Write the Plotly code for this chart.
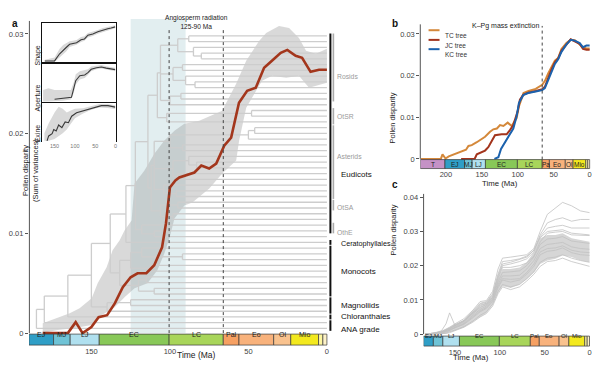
import plotly.graph_objects as go

W, H = 599, 371
FONT = "Arial, Liberation Sans, sans-serif"

# ---------------- data ----------------
# geological time scale (Ma)
geo_start = [252.0, 201.3, 174.1, 163.5, 145.0, 100.5, 66.0, 56.0, 33.9, 23.03, 5.33, 2.58]
geo_end = [201.3, 174.1, 163.5, 145.0, 100.5, 66.0, 56.0, 33.9, 23.03, 5.33, 2.58, 0.0]
geo_abbr = ["T", "EJ", "MJ", "LJ", "EC", "LC", "Pal", "Eo", "Ol", "Mio", "", ""]
geo_abbr_b = ["T", "EJ", "MJ", "LJ", "EC", "LC", "Pa", "Eo", "Ol", "Mio", "", ""]
geo_color = ["#c592c6", "#2f9ec6", "#6fc3d6", "#b0e0ef", "#88c858", "#a8d55a",
             "#f6a062", "#f8b27c", "#f9c28e", "#f3e91e", "#fdf6a0", "#fdf2c8"]

# panel a: main disparity curve (JC tree)
red_t = [181, 165, 160, 155.6, 150, 145.4, 140, 135, 130, 125, 120.6, 115, 110, 105, 102.5, 100,
         96.5, 94, 84.4, 80, 75, 70.5, 65.4, 61, 56, 50.8, 45.3, 40, 35, 29.4, 25.2, 19.9, 15.8,
         10.4, 5, 0]
red_v = [0, 0, 0.0011, 0, 0.0006, 0.0016, 0.0018, 0.003, 0.0046, 0.0056, 0.006, 0.006, 0.0068,
         0.0086, 0.011, 0.0146, 0.0153, 0.0156, 0.0161, 0.0168, 0.0165, 0.017, 0.0188, 0.0196,
         0.0231, 0.0243, 0.0246, 0.0266, 0.0273, 0.0281, 0.0284, 0.0278, 0.0276, 0.0262, 0.0264,
         0.0264]
# panel a: confidence envelope
env_hi_t = [181, 171.4, 163.8, 157.5, 149.8, 146, 140.3, 136.5, 132, 128.9, 124.4, 122.5, 116.2,
            109.8, 103.5, 97.1, 90.8, 81.3, 66.7, 57.8, 51.4, 43.2, 38.7, 30.5, 24.1, 17.8, 13.3,
            7, 0]
env_hi_v = [0.001, 0.0016, 0.002, 0.0025, 0.0035, 0.005, 0.0066, 0.0083, 0.0093, 0.0103, 0.0113,
            0.015, 0.0163, 0.018, 0.0193, 0.0203, 0.021, 0.0213, 0.0223, 0.025, 0.0273, 0.0293,
            0.0301, 0.0308, 0.0306, 0.0296, 0.0283, 0.028, 0.0285]
env_lo_t = [181, 171.4, 160.6, 149.8, 143.5, 135.2, 128.9, 122.5, 114.3, 108, 103.5, 100.3, 97.1,
            90.8, 85.7, 74.9, 66.7, 57.8, 55.9, 51.4, 45.1, 41.3, 34.9, 26, 17.8, 11.4, 7, 0]
env_lo_v = [0, 0.0003, 0.0005, 0.0008, 0.0018, 0.0026, 0.0036, 0.0045, 0.005, 0.0063, 0.008,
            0.0095, 0.0115, 0.0128, 0.0131, 0.0145, 0.016, 0.0173, 0.0193, 0.0226, 0.0243, 0.0253,
            0.0258, 0.0256, 0.0258, 0.0246, 0.0248, 0.0251]
radiation_window = [125, 90]
event_lines = [100.5, 66]

# phylogeny (node = (age, child, child, ...); 0 = tip), tips listed top to bottom
rosids = (106, (95, (88, 0, 0), (85, 0, (80, 0, 0))), (98, (92, 0, 0), (90, 0, (84, 0, 0))),
          (100, (93, 0, 0), 0))
otsr = (102, (48, 0, 0), 0)
asterids = (110, (100, (50, (46, 0, 0), 0), (92, 0, 0)), (98, (88, 0, (83, 0, 0)), (95, 0, 0)),
            (104, 0, (96, 0, 0)))
otsa = (106, (95, 0, 0), (98, 0, 0))
othe = (118, 0, (110, 0, 0))
monocots = (132, (125, (118, 0, (92, 0, 0)), (112, 0, 0)), (120, (115, 0, 0), (110, 0, 0)))
magnoliids = (140, (125, 0, 0), 0)
tree = (185, (180, (165, (150, (138, (128, (122, (114, (108, rosids, otsr), (112, asterids, otsa)),
                                                othe), 0), monocots), magnoliids), 0), 0), 0)

clade_names = ["Eudicots", "Ceratophyllales", "Monocots", "Magnoliids", "Chloranthales", "ANA grade"]
clade_first = [0, 36, 37, 46, 49, 50]
clade_last = [34, 36, 45, 48, 49, 51]
clade_label_at = [24.2, 36.2, 41, 47, 49, 51.1]
clade_font = [8, 7.2, 8, 8, 8, 8]
sub_names = ["Rosids", "OtSR", "Asterids", "OtSA", "OthE"]
sub_first = [0, 13, 16, 29, 33]
sub_last = [11, 15, 28, 30, 34]
sub_label_at = [7, 14.1, 21, 29.9, 34.3]

# inset (relative disparity per trait)
shape_t = [174, 150, 137.5, 129, 121.5, 113, 105, 96, 85, 76.5, 68, 56, 43.6, 31.5, 19.3, 11, 1]
shape_v = [0.03, 0.03, 0.22, 0.32, 0.385, 0.47, 0.49, 0.51, 0.59, 0.61, 0.71, 0.74, 0.8, 0.85, 0.88, 0.9, 0.93]
shape_lo = [0.0, 0.0, 0.12, 0.2, 0.28, 0.4, 0.43, 0.46, 0.53, 0.56, 0.65, 0.69, 0.75, 0.8, 0.84, 0.86, 0.89]
shape_hi = [0.06, 0.12, 0.35, 0.45, 0.5, 0.55, 0.56, 0.58, 0.66, 0.68, 0.77, 0.8, 0.85, 0.9, 0.93, 0.95, 0.97]
ap_t = [150, 130, 108.5, 103, 98, 88, 76, 68, 60, 47, 35, 23, 11, 1]
ap_v = [0.06, 0.08, 0.11, 0.34, 0.55, 0.68, 0.7, 0.76, 0.85, 0.89, 0.91, 0.88, 0.86, 0.84]
ap_bt = [178, 165, 150, 130, 110, 103, 98, 88, 76, 68, 60, 47, 35, 23, 11, 1]
ap_lo = [0, 0, 0, 0.02, 0.05, 0.22, 0.45, 0.58, 0.62, 0.7, 0.8, 0.85, 0.87, 0.84, 0.82, 0.8]
ap_hi = [0.3, 0.35, 0.3, 0.3, 0.3, 0.5, 0.72, 0.8, 0.82, 0.85, 0.92, 0.95, 0.96, 0.93, 0.91, 0.89]
ex_t = [168.5, 164.5, 156, 152, 146, 140, 132, 124, 116, 108, 96, 83, 71, 59, 47, 35, 18.6, 1]
ex_v = [0, 0.13, 0.19, 0.3, 0.26, 0.42, 0.35, 0.5, 0.48, 0.65, 0.74, 0.78, 0.83, 0.87, 0.91, 0.93, 0.93, 0.89]
ex_bt = [175, 165, 150, 140, 130, 120, 110, 100, 80, 60, 40, 20, 1]
ex_lo = [0, 0, 0.05, 0.12, 0.2, 0.3, 0.45, 0.6, 0.72, 0.82, 0.88, 0.87, 0.84]
ex_hi = [0.2, 0.45, 0.75, 0.9, 0.85, 0.75, 0.8, 0.85, 0.86, 0.92, 0.97, 0.97, 0.94]
inset_names = ["Shape", "Aperture", "Exine"]

# panel b: three time-calibrated trees
tc_t = [235, 207, 204.7, 200.5, 196, 189, 182.4, 177, 172, 168.6, 164, 157, 152.5, 145.5, 138.6,
        134, 129, 124.7, 120, 114, 108.5, 101.6, 98.4, 92, 85, 75, 66, 62, 57.7, 53, 48.4, 43.8,
        39.2, 32.3, 26.3, 20.7, 13.8, 9.2, 4.5, 0]
tc_v = [0, 0, 0.0011, 0.0001, 0.0006, 0.0011, 0.0016, 0.002, 0.0022, 0.0031, 0.0033, 0.004,
        0.0045, 0.0053, 0.0065, 0.0071, 0.0073, 0.0081, 0.0079, 0.0087, 0.0079, 0.0098, 0.0126,
        0.0158, 0.0163, 0.0168, 0.0178, 0.0188, 0.0205, 0.0222, 0.0236, 0.0242, 0.0264, 0.0278,
        0.0286, 0.0285, 0.0276, 0.0268, 0.0265, 0.0265]
jc_t = [178.8, 160, 157, 150, 145.5, 141, 136, 131.7, 122.4, 115.5, 110.9, 106.2, 100.2, 97,
        92.4, 85.5, 75, 66, 62.3, 57.7, 53, 48.4, 43.8, 39.2, 32.3, 26.3, 20.7, 13.8, 9.2, 4.5, 0]
jc_v = [0, 0, 0.0011, 0.0016, 0.002, 0.0028, 0.0045, 0.0057, 0.0059, 0.0059, 0.0069, 0.0081,
        0.0114, 0.0142, 0.0154, 0.0159, 0.0163, 0.0167, 0.0173, 0.0195, 0.0215, 0.0232, 0.0241,
        0.026, 0.0276, 0.0287, 0.0282, 0.0276, 0.0264, 0.0262, 0.0262]
kc_t = [132.5, 127, 123.3, 118.7, 113, 106.2, 101.6, 98.4, 92.4, 85.5, 75, 66, 62.3, 57.7, 53,
        48.4, 43.8, 39.2, 32.3, 26.3, 20.7, 13.8, 9.2, 4.5, 0]
kc_v = [0, 0.0004, 0.0024, 0.0037, 0.0053, 0.0073, 0.0102, 0.0134, 0.0153, 0.0158, 0.0162,
        0.0165, 0.017, 0.0188, 0.021, 0.0228, 0.0239, 0.0257, 0.0275, 0.0286, 0.0284, 0.0278,
        0.0268, 0.0272, 0.0272]
tree_names = ["TC tree", "JC tree", "KC tree"]
tree_colors = ["#d4883a", "#a3341c", "#1c62ad"]

# panel c: replicate trees
c_t = [183, 172, 165, 160, 156, 150, 140, 130, 122, 115, 108, 102, 97, 88, 78, 70, 62, 55, 47,
       38, 30, 20, 10, 0]
c_core_lo = [0, 0, 0, 0.0003, 0.0005, 0.001, 0.002, 0.0035, 0.005, 0.0062, 0.0085, 0.012, 0.014,
             0.0135, 0.0145, 0.016, 0.018, 0.0205, 0.0215, 0.022, 0.023, 0.0225, 0.0215, 0.021]
c_core_hi = [0, 0.0005, 0.001, 0.0015, 0.002, 0.0028, 0.004, 0.0065, 0.008, 0.009, 0.011, 0.016,
             0.019, 0.019, 0.0195, 0.021, 0.024, 0.028, 0.029, 0.029, 0.0295, 0.028, 0.0275, 0.027]
c_lines = [
    [0, 0.0003, 0.0008, 0.0014, 0.002, 0.003, 0.0045, 0.007, 0.0095, 0.0098, 0.0125, 0.019, 0.0222, 0.0225, 0.0228, 0.0232, 0.025, 0.03, 0.035, 0.037, 0.0385, 0.0375, 0.036, 0.0355],
    [0, 0.0002, 0.0006, 0.0012, 0.0018, 0.0028, 0.004, 0.0068, 0.009, 0.0095, 0.0118, 0.0175, 0.0212, 0.0215, 0.022, 0.0228, 0.0245, 0.029, 0.0325, 0.0335, 0.034, 0.033, 0.0335, 0.0335],
    [0, 0.0002, 0.0005, 0.001, 0.0015, 0.0025, 0.0038, 0.0062, 0.0085, 0.009, 0.0112, 0.0165, 0.02, 0.0205, 0.0212, 0.022, 0.024, 0.0285, 0.031, 0.0315, 0.0318, 0.031, 0.031, 0.031],
    [0, 0.0003, 0.001, 0.003, 0.0062, 0.0025, 0.004, 0.0062, 0.0082, 0.009, 0.0108, 0.016, 0.0195, 0.0195, 0.02, 0.0208, 0.0228, 0.027, 0.0295, 0.0298, 0.03, 0.029, 0.029, 0.0288],
    [0, 0.0002, 0.0006, 0.0011, 0.0016, 0.0026, 0.0038, 0.0065, 0.0088, 0.0093, 0.0115, 0.017, 0.0205, 0.021, 0.0218, 0.0225, 0.0245, 0.0282, 0.03, 0.0302, 0.0305, 0.0295, 0.0292, 0.029],
    [0, 0.0002, 0.0005, 0.001, 0.0014, 0.0022, 0.0036, 0.006, 0.0078, 0.0086, 0.0106, 0.0152, 0.018, 0.0182, 0.0185, 0.02, 0.0225, 0.0262, 0.0278, 0.028, 0.0285, 0.0272, 0.0268, 0.0265],
    [0, 0.0001, 0.0004, 0.0008, 0.0012, 0.002, 0.0032, 0.0055, 0.0072, 0.0082, 0.0102, 0.0145, 0.017, 0.017, 0.0172, 0.019, 0.0215, 0.025, 0.0262, 0.0265, 0.0268, 0.0255, 0.025, 0.0248],
    [0, 0.0001, 0.0003, 0.0006, 0.001, 0.0018, 0.003, 0.005, 0.0068, 0.0078, 0.0098, 0.014, 0.0162, 0.016, 0.0162, 0.018, 0.0205, 0.024, 0.025, 0.0252, 0.0258, 0.0245, 0.024, 0.0238],
    [0, 0.0001, 0.0004, 0.0007, 0.0011, 0.0019, 0.0028, 0.0048, 0.0065, 0.0075, 0.0095, 0.0135, 0.0158, 0.0152, 0.0158, 0.0175, 0.0198, 0.0232, 0.0242, 0.0245, 0.0252, 0.0238, 0.0232, 0.023],
    [0, 0, 0.0001, 0.0003, 0.0006, 0.0012, 0.0022, 0.0038, 0.0055, 0.0065, 0.0088, 0.0125, 0.0145, 0.0138, 0.0145, 0.0162, 0.0182, 0.021, 0.0222, 0.0225, 0.0232, 0.0222, 0.0215, 0.021],
    [0, 0, 0.0001, 0.0002, 0.0004, 0.001, 0.002, 0.0035, 0.005, 0.006, 0.0082, 0.0118, 0.0138, 0.013, 0.0138, 0.0155, 0.0175, 0.0198, 0.0212, 0.0215, 0.0222, 0.0212, 0.0205, 0.0198],
]

# ---------------- helpers ----------------
def px(x):
    return x / W


def py(y):
    return 1 - y / H


shapes, annotations = [], []
fig = go.Figure()

# ---------------- panel a ----------------
fig.add_trace(go.Scatter(x=env_hi_t + env_lo_t[::-1], y=env_hi_v + env_lo_v[::-1], fill="toself",
                         fillcolor="rgba(150,150,150,0.36)", line=dict(width=0), mode="lines",
                         hoverinfo="skip", xaxis="x", yaxis="y"))

hx, hy = [], []
counter = [0]


def lay(node, parent_age):
    if isinstance(node, int):
        yy = counter[0]
        counter[0] += 1
        hx.extend([parent_age, 0, None])
        hy.extend([yy, yy, None])
        return yy
    age = node[0]
    ys = [lay(c, age) for c in node[1:]]
    yy = (ys[0] + ys[-1]) / 2
    hx.extend([age, age, None])
    hy.extend([ys[0], ys[-1], None])
    if parent_age is not None:
        hx.extend([parent_age, age, None])
        hy.extend([yy, yy, None])
    return yy


lay(tree, None)
fig.add_trace(go.Scatter(x=hx, y=hy, mode="lines", line=dict(color="#cdcdcd", width=1.3),
                         hoverinfo="skip", xaxis="x", yaxis="y2"))
fig.add_trace(go.Scatter(x=red_t, y=red_v, mode="lines", line=dict(color="#a3361c", width=2.6),
                         hoverinfo="skip", xaxis="x", yaxis="y3"))

# radiation window
shapes.append(dict(type="rect", xref="x", yref="paper", x0=radiation_window[0], x1=radiation_window[1],
                   y0=py(333), y1=py(18), fillcolor="#e2eef0", line=dict(width=0), layer="below"))
for ev in event_lines:
    shapes.append(dict(type="line", xref="x", yref="paper", x0=ev, x1=ev, y0=py(333), y1=py(27),
                       line=dict(color="#444", width=1, dash="dot"), layer="above"))
# y axis line
shapes.append(dict(type="line", xref="paper", yref="y", x0=px(29.5), x1=px(29.5), y0=0, y1=0.0313,
                   line=dict(color="#555", width=1)))

# clade bars
for n, f, l, la, fs in zip(clade_names, clade_first, clade_last, clade_label_at, clade_font):
    shapes.append(dict(type="line", xref="paper", yref="y2", x0=px(331.5), x1=px(331.5),
                       y0=f - 0.42, y1=l + 0.42, line=dict(color="#111", width=2)))
    annotations.append(dict(x=px(340), y=la, xref="paper", yref="y2",
                            text=n, showarrow=False, xanchor="left",
                            font=dict(size=fs, color="#111", family=FONT)))
for n, f, l, la in zip(sub_names, sub_first, sub_last, sub_label_at):
    shapes.append(dict(type="line", xref="paper", yref="y2", x0=px(334.5), x1=px(334.5),
                       y0=f - 0.42, y1=l + 0.42, line=dict(color="#aaaaaa", width=1.6)))
    annotations.append(dict(x=px(336), y=la, xref="paper", yref="y2", text=n, showarrow=False,
                            xanchor="left", font=dict(size=6.8, color="#9a9a9a", family=FONT)))


def time_bar(xref, left, right, y0p, y1p, abbr, fsize):
    for s, e, lab, col in zip(geo_start, geo_end, abbr, geo_color):
        a = min(s, left)
        b = max(e, right)
        if a <= b:
            continue
        shapes.append(dict(type="rect", xref=xref, yref="paper", x0=a, x1=b, y0=py(y1p), y1=py(y0p),
                           fillcolor=col, line=dict(color="#3a3a3a", width=0.7), layer="above"))
        if lab:
            annotations.append(dict(x=(a + b) / 2, y=py((y0p + y1p) / 2), xref=xref, yref="paper",
                                    text=lab, showarrow=False,
                                    font=dict(size=fsize, color="#222", family=FONT)))


time_bar("x", 189.8, -1.9, 334, 345, geo_abbr, 7)

annotations += [
    dict(x=px(176), y=py(362), xref="paper", yref="paper", text="Time (Ma)", showarrow=False,
         font=dict(size=8.5, color="#222", family=FONT)),
    dict(x=px(19), y=py(170), xref="paper", yref="paper",
         text="Pollen disparity<br>(Sum of variances)", textangle=-90, showarrow=False,
         font=dict(size=7.5, color="#222", family=FONT)),
    dict(x=px(164), y=py(11), xref="paper", yref="paper", text="Angiosperm radiation<br>125-90 Ma",
         showarrow=False, font=dict(size=6.6, color="#222", family=FONT)),
    dict(x=px(10), y=py(15), xref="paper", yref="paper", text="<b>a</b>", showarrow=False,
         font=dict(size=10, color="#111", family=FONT)),
    dict(x=px(396), y=py(15), xref="paper", yref="paper", text="<b>b</b>", showarrow=False,
         font=dict(size=10, color="#111", family=FONT)),
    dict(x=px(396), y=py(184), xref="paper", yref="paper", text="<b>c</b>", showarrow=False,
         font=dict(size=10, color="#111", family=FONT)),
]

# ---------------- inset ----------------
inset_sets = [(shape_t, shape_v, shape_t, shape_lo, shape_hi),
              (ap_t, ap_v, ap_bt, ap_lo, ap_hi),
              (ex_t, ex_v, ex_bt, ex_lo, ex_hi)]
inset_bounds = [(22.5, 62), (62, 101.5), (101.5, 141)]
for i, ((lt, lv, bt, blo, bhi), name, (t0, t1)) in enumerate(zip(inset_sets, inset_names, inset_bounds)):
    ax = str(4 + i)
    fig.add_trace(go.Scatter(x=bt + bt[::-1], y=bhi + blo[::-1], fill="toself", fillcolor="#d9d9d9",
                             line=dict(width=0), mode="lines", hoverinfo="skip",
                             xaxis="x" + ax, yaxis="y" + ax))
    fig.add_trace(go.Scatter(x=lt, y=lv, mode="lines", line=dict(color="#3a3a3a", width=1.1),
                             hoverinfo="skip", xaxis="x" + ax, yaxis="y" + ax))
    annotations.append(dict(x=px(38.5), y=py((t0 + t1) / 2), xref="paper", yref="paper", text=name,
                            textangle=-90, showarrow=False, xanchor="center",
                            font=dict(size=7, color="#222", family=FONT)))

# ---------------- panel b ----------------
for t, v, n, c in zip([tc_t, jc_t, kc_t], [tc_v, jc_v, kc_v], tree_names, tree_colors):
    fig.add_trace(go.Scatter(x=t, y=v, mode="lines", line=dict(color=c, width=2), name=n,
                             hoverinfo="skip", xaxis="x7", yaxis="y7"))
shapes.append(dict(type="line", xref="x7", yref="paper", x0=66, x1=66, y0=py(159), y1=py(25),
                   line=dict(color="#444", width=1, dash="dot"), layer="above"))
shapes.append(dict(type="line", xref="paper", yref="y7", x0=px(421.7), x1=px(421.7), y0=0, y1=0.0323,
                   line=dict(color="#555", width=1)))
for k, (n, c) in enumerate(zip(tree_names, tree_colors)):
    yy = [29.3, 39, 48.3][k]
    shapes.append(dict(type="line", xref="paper", yref="paper", x0=px(430), x1=px(441), y0=py(yy),
                       y1=py(yy), line=dict(color=c, width=2)))
    annotations.append(dict(x=px(444), y=py(yy), xref="paper", yref="paper", text=n, showarrow=False,
                            xanchor="left", font=dict(size=6.5, color="#333", family=FONT)))
time_bar("x7", 235.6, -2.6, 159, 168, geo_abbr_b, 6.5)
annotations += [
    dict(x=px(543), y=py(19), xref="paper", yref="paper", text="K\u2013Pg mass extinction",
         showarrow=False, font=dict(size=7, color="#222", family=FONT)),
    dict(x=px(522), y=py(183), xref="paper", yref="paper", text="Time (Ma)", showarrow=False,
         font=dict(size=7.8, color="#222", family=FONT)),
    dict(x=px(400), y=py(90), xref="paper", yref="paper", text="Pollen disparity", textangle=-90,
         showarrow=False, font=dict(size=7.5, color="#222", family=FONT)),
]

# ---------------- panel c ----------------
fig.add_trace(go.Scatter(x=c_t + c_t[::-1], y=c_core_hi + c_core_lo[::-1], fill="toself",
                         fillcolor="#d6d6d6", line=dict(width=0), mode="lines", hoverinfo="skip",
                         xaxis="x8", yaxis="y8"))
for ln in c_lines:
    fig.add_trace(go.Scatter(x=c_t, y=ln, mode="lines", line=dict(color="#c2c2c2", width=0.8),
                             hoverinfo="skip", xaxis="x8", yaxis="y8"))
shapes.append(dict(type="line", xref="paper", yref="y8", x0=px(425), x1=px(425), y0=0, y1=0.041,
                   line=dict(color="#555", width=1)))
time_bar("x8", 185, -2.8, 336, 346, geo_abbr, 6)
annotations += [
    dict(x=px(493), y=py(364), xref="paper", yref="paper", text="Time (Ma)", showarrow=False,
         font=dict(size=7.8, color="#222", family=FONT)),
    dict(x=px(401.5), y=py(257), xref="paper", yref="paper", text="Pollen disparity", textangle=-90,
         showarrow=False, font=dict(size=7.5, color="#222", family=FONT)),
]

# ---------------- axes ----------------
tickfont = dict(size=7.5, color="#444", family=FONT)
base = dict(showgrid=False, zeroline=False, showline=False, ticklabeloverflow="allow")
frame = dict(showgrid=False, zeroline=False, showline=True, mirror=True, linecolor="#111",
             linewidth=1, ticks="", showticklabels=False)

fig.update_layout(
    width=W, height=H, margin=dict(l=0, r=0, t=0, b=0), paper_bgcolor="white",
    plot_bgcolor="rgba(0,0,0,0)", showlegend=False, font=dict(family=FONT),
    xaxis=dict(base, domain=[px(29), px(331)], range=[189.8, -1.9], tickvals=[150, 100, 50, 0],
               ticks="", tickfont=tickfont, anchor="y"),
    yaxis=dict(base, domain=[py(345), py(18)], range=[-0.0012, 0.0315],
               tickvals=[0, 0.01, 0.02, 0.03], ticktext=["0", "0.01", "0.02", "0.03"],
               ticks="outside", ticklen=3, tickcolor="#555", tickfont=tickfont, anchor="x"),
    yaxis2=dict(overlaying="y", anchor="x", range=[53.9, -2.96], visible=False),
    yaxis3=dict(overlaying="y", anchor="x", range=[-0.0012, 0.0315], visible=False),
    xaxis4=dict(frame, domain=[px(42.5), px(116)], range=[180, 0], anchor="y4"),
    yaxis4=dict(frame, domain=[py(62), py(22.5)], range=[-0.02, 1.02], anchor="x4"),
    xaxis5=dict(frame, domain=[px(42.5), px(116)], range=[180, 0], anchor="y5"),
    yaxis5=dict(frame, domain=[py(101.5), py(62)], range=[-0.02, 1.02], anchor="x5"),
    xaxis6=dict(base, domain=[px(42.5), px(116)], range=[180, 0], anchor="y6",
                tickvals=[150, 100, 50, 0], ticks="", tickfont=dict(size=5.5, color="#777", family=FONT)),
    yaxis6=dict(frame, domain=[py(141), py(101.5)], range=[-0.02, 1.02], anchor="x6"),
    xaxis7=dict(base, domain=[px(421.7), px(593.5)], range=[235.6, -2.6], anchor="y7",
                tickvals=[200, 150, 100, 50, 0], ticks="", tickfont=tickfont),
    yaxis7=dict(base, domain=[py(168), py(23)], range=[-0.00232, 0.0324], anchor="x7",
                tickvals=[0, 0.01, 0.02, 0.03], ticktext=["0", "0.01", "0.02", "0.03"],
                ticks="outside", ticklen=3, tickcolor="#555", tickfont=tickfont),
    xaxis8=dict(base, domain=[px(425), px(594)], range=[185, -2.8], anchor="y8",
                tickvals=[150, 100, 50, 0], ticks="", tickfont=tickfont),
    yaxis8=dict(base, domain=[py(346), py(193)], range=[-0.0035, 0.0411], anchor="x8",
                tickvals=[0, 0.01, 0.02, 0.03, 0.04], ticktext=["0", "0.01", "0.02", "0.03", "0.04"],
                ticks="outside", ticklen=3, tickcolor="#555", tickfont=tickfont),
    shapes=shapes, annotations=annotations,
)

fig.write_html("out.html", config={"displayModeBar": False},
               post_script="document.body.style.margin='0px';document.body.style.overflow='hidden';")
